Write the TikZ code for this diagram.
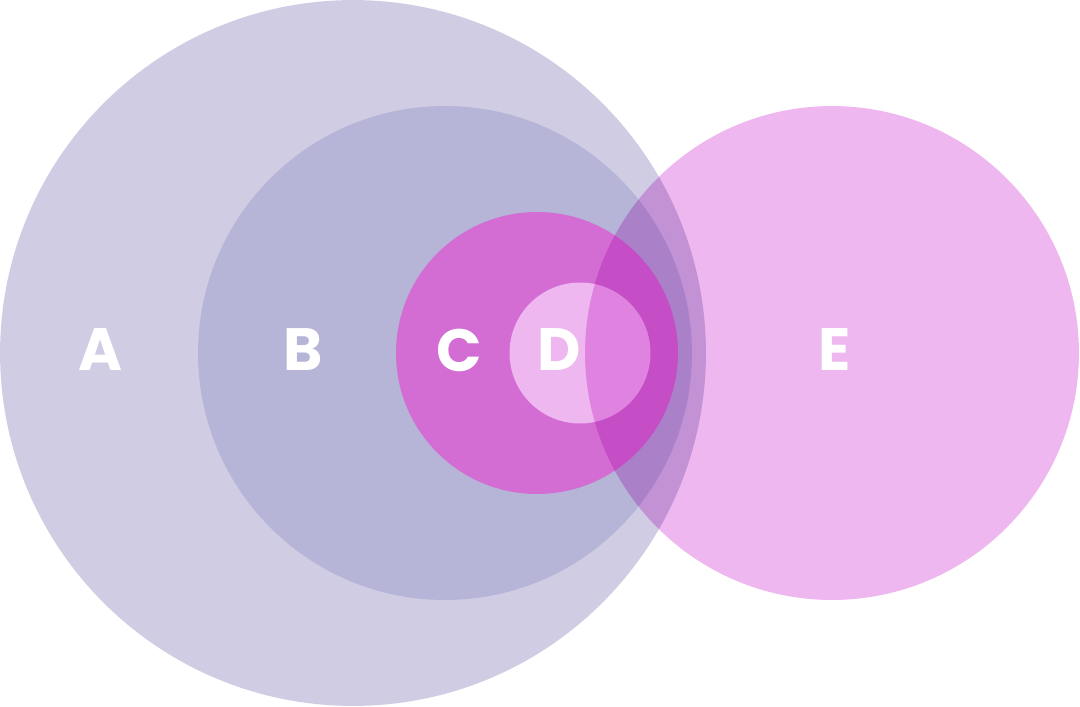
\documentclass[tikz,border=0pt]{standalone}
\usepackage{fontspec}
\newfontfamily\popfont{Poppins}
\definecolor{colA}{HTML}{CFCCE3}
\definecolor{colB}{HTML}{B6B4D7}
\definecolor{colC}{HTML}{D36CD3}
\definecolor{colD}{HTML}{EFB7EF}
\definecolor{colE}{HTML}{EFB7EF}

\begin{document}
\begin{tikzpicture}[x=0.02cm,y=-0.02cm,set circle/.style={circle,draw=none,inner sep=0pt,outer sep=0pt},set label/.style={text=white,font=\popfont\bfseries\fontsize{34}{34}\selectfont,inner sep=0pt}]
    \useasboundingbox (0,0) rectangle (1080,707);

    % nested sets
    \node[set circle,fill=colA,minimum size=14.12cm] (setA) at (353,353) {};
    \node[set circle,fill=colB,minimum size=9.88cm] (setB) at (445,353) {};
    \node[set circle,fill=colC,minimum size=5.64cm] (setC) at (537,353) {};
    \node[set circle,fill=colD,minimum size=2.82cm] (setD) at (580,353) {};
    % E on top, multiplied
    \begin{scope}[blend mode=multiply]
        \node[set circle,fill=colE,minimum size=9.88cm] (setE) at (832,353) {};
    \end{scope}

    \node[set label] (labA) at (101,350) {A};
    \node[set label] (labB) at (303,350) {B};
    \node[set label] (labC) at (459,350) {C};
    \node[set label] (labD) at (559,350) {D};
    \node[set label] (labE) at (835,350) {E};
\end{tikzpicture}
\end{document}
